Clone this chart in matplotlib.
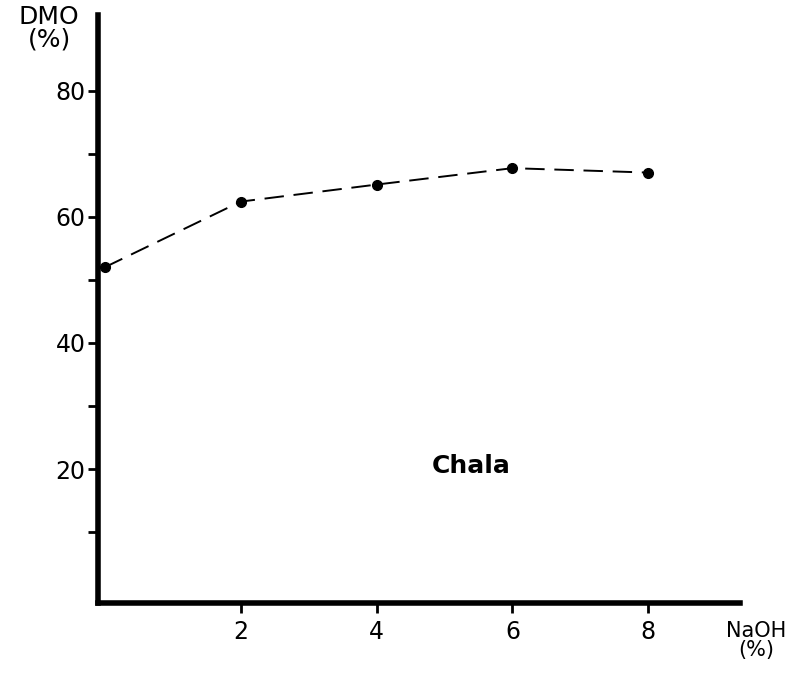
import matplotlib.pyplot as plt

# values
naoh = [0, 2, 4, 6, 8]
dmo = [52, 62.4, 65.1, 67.7, 67.0]
x_ticks = [2, 4, 6, 8]
y_major = [20, 40, 60, 80]
y_minor = [10, 30, 50, 70]

plt.rcParams['font.family'] = ['DejaVu Sans']

fig = plt.figure(figsize=(7.94, 6.73), dpi=100)
ax = fig.add_axes([0.1234, 0.104, 0.8086, 0.874])

ax.plot(naoh, dmo, color='black', linestyle=(0, (10, 5)), linewidth=1.4,
        marker='o', markersize=7, clip_on=False)

ax.set_xlim(-0.1, 9.35)
ax.set_ylim(-1.2, 92)

for side in ['top', 'right']:
    ax.spines[side].set_visible(False)
for side in ['left', 'bottom']:
    ax.spines[side].set_linewidth(4)
    ax.spines[side].set_color('black')

ax.set_xticks(x_ticks)
ax.set_xticklabels([str(v) for v in x_ticks])
ax.set_yticks(y_major)
ax.set_yticklabels([str(v) for v in y_major])
ax.set_yticks(y_minor, minor=True)
ax.tick_params(axis='both', which='both', direction='out', width=2,
               length=7, labelsize=17, pad=2)
ax.tick_params(axis='x', pad=5)

fig.text(0.062, 0.992, 'DMO\n(%)', ha='center', va='top', fontsize=18,
         linespacing=0.9)
fig.text(0.952, 0.078, 'NaOH\n(%)', ha='center', va='top', fontsize=15,
         linespacing=0.95)
ax.text(5.4, 20.5, 'Chala', ha='center', va='center', fontsize=18,
        fontweight='bold')

fig.savefig('out.png', dpi=100)
